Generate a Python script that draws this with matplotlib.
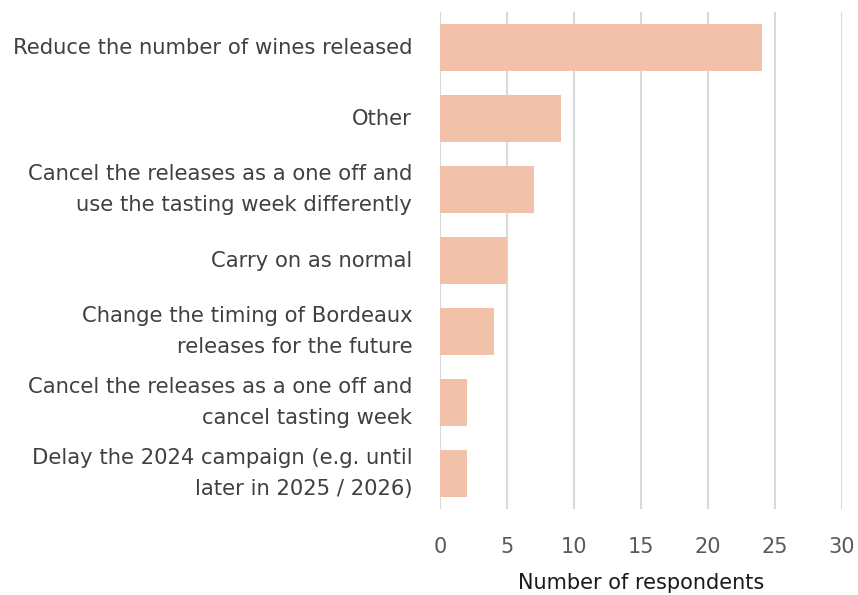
import matplotlib.pyplot as plt

# categories (top to bottom) and number of respondents
categories = [
    "Reduce the number of wines released",
    "Other",
    "Cancel the releases as a one off and\nuse the tasting week differently",
    "Carry on as normal",
    "Change the timing of Bordeaux\nreleases for the future",
    "Cancel the releases as a one off and\ncancel tasting week",
    "Delay the 2024 campaign (e.g. until\nlater in 2025 / 2026)",
]
respondents = [24, 9, 7, 5, 4, 2, 2]
x_ticks = [0, 5, 10, 15, 20, 25, 30]

plt.rcParams['font.family'] = ['DejaVu Sans']

fig = plt.figure(figsize=(8.58, 5.95), dpi=100)
ax = fig.add_axes([0.5128, 0.1445, 0.4686, 0.8353])

positions = list(range(len(categories)))
ax.barh(positions, respondents, height=0.65, color="#F2C1A9", zorder=3)

ax.set_ylim(len(categories) - 0.5, -0.5)
ax.set_xlim(0, 30)
ax.set_xticks(x_ticks)
ax.set_yticks(positions)
ax.set_yticklabels(categories, fontsize=15.2, color="#404040", linespacing=1.7, va="center")
ax.tick_params(axis="x", labelsize=15, labelcolor="#595959", length=0, pad=20)
ax.tick_params(axis="y", length=0, pad=20)

ax.grid(axis="x", color="#D9D9D9", linewidth=1.5, zorder=0)
for s in ax.spines.values():
    s.set_visible(False)

ax.set_xlabel("Number of respondents", fontsize=15, color="#1a1a1a", labelpad=12)

fig.savefig("out.png", dpi=100)
